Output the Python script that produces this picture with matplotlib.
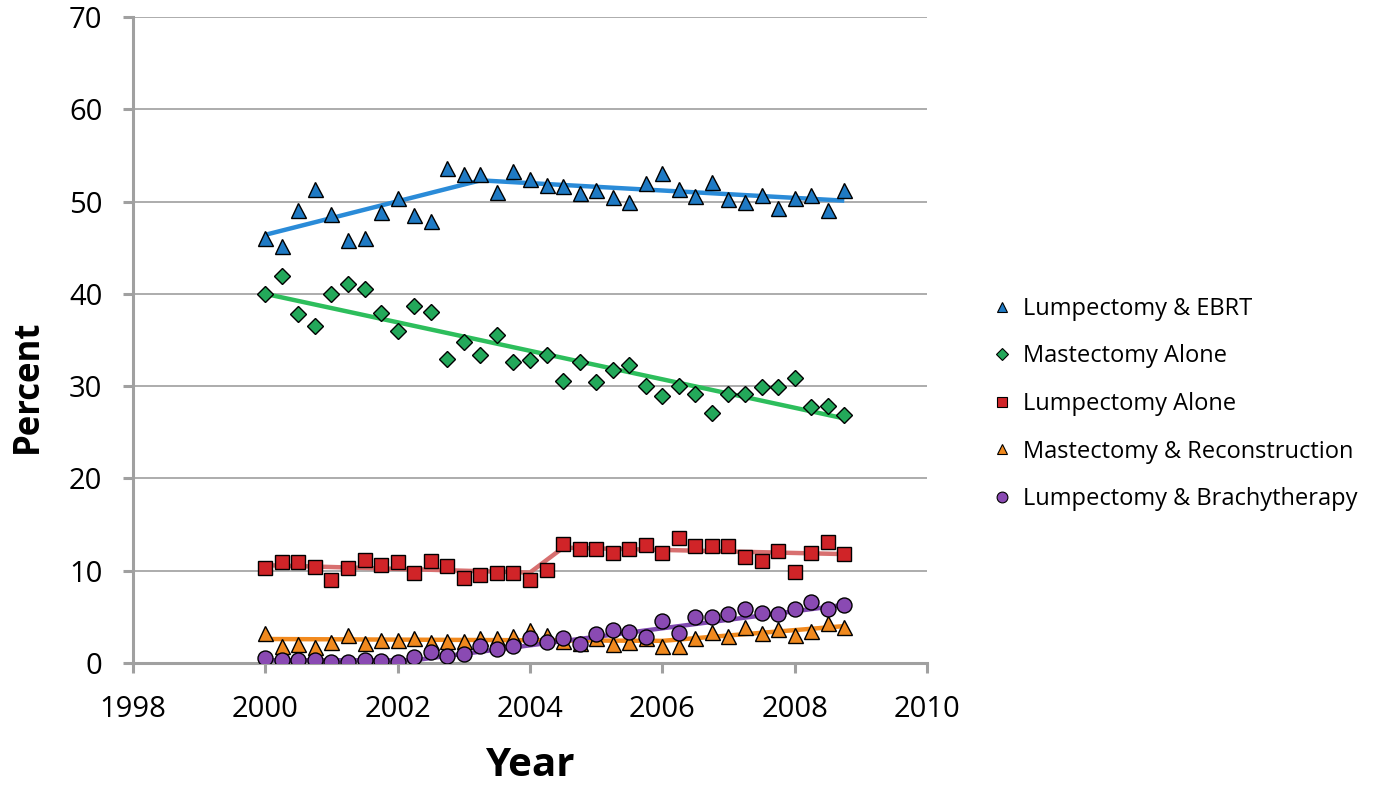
import matplotlib
matplotlib.use('Agg')
import matplotlib.pyplot as plt
from matplotlib.lines import Line2D
import numpy as np

# quarterly observations, 2000 Q1 .. 2008 Q4
QUARTERS = np.arange(2000, 2009, 0.25)

lump_ebrt = [46.0, 45.2, 49.1, 51.4, 48.7, 45.8, 46.0, 48.9, 50.4, 48.5,
             47.9, 53.6, 53.0, 53.0, 51.0, 53.3, 52.4, 51.8, 51.7, 50.9,
             51.3, 50.5, 50.0, 52.0, 53.1, 51.4, 50.6, 52.1, 50.3, 49.9,
             50.7, 49.3, 50.4, 50.7, 49.1, 51.2]
mast_alone = [40.0, 41.9, 37.8, 36.5, 40.0, 41.1, 40.5, 37.9, 36.0, 38.7,
              38.0, 32.9, 34.8, 33.4, 35.5, 32.6, 32.8, 33.4, 30.6, 32.6,
              30.5, 31.8, 32.3, 30.0, 28.9, 30.0, 29.2, 27.1, 29.1, 29.1,
              29.9, 29.9, 30.9, 27.7, 27.8, 26.9]
lump_alone = [10.3, 10.9, 10.9, 10.4, 9.0, 10.3, 11.2, 10.6, 10.9, 9.7,
              11.0, 10.5, 9.2, 9.5, 9.7, 9.8, 9.0, 10.1, 12.9, 12.4,
              12.4, 11.9, 12.3, 12.8, 11.9, 13.5, 12.7, 12.7, 12.7, 11.5,
              11.0, 12.1, 9.9, 11.9, 13.1, 11.8]
mast_recon = [3.3, 1.8, 2.1, 1.7, 2.3, 3.0, 2.2, 2.5, 2.5, 2.7,
              2.3, 2.4, 2.4, 2.7, 2.7, 2.9, 3.6, 3.0, 2.4, 2.2,
              2.7, 2.1, 2.3, 2.7, 1.8, 1.8, 2.7, 3.4, 2.9, 3.9,
              3.2, 3.7, 3.0, 3.5, 4.3, 3.9]
lump_brachy = [0.5, 0.3, 0.3, 0.3, 0.1, 0.15, 0.3, 0.25, 0.15, 0.7,
               1.2, 0.75, 1.0, 1.8, 1.5, 1.8, 2.7, 2.3, 2.7, 2.1,
               3.1, 3.6, 3.4, 2.8, 4.5, 3.3, 5.0, 5.0, 5.3, 5.8,
               5.45, 5.3, 5.9, 6.6, 5.9, 6.3]

# joinpoint trend segments (x, y)
trend_ebrt = ([2000, 2003.25, 2008.75], [46.4, 52.3, 50.1])
trend_mast = ([2000, 2008.75], [40.0, 26.5])
trend_lump = ([2000, 2004.0, 2004.5, 2008.75], [10.6, 9.8, 12.5, 11.8])
trend_recon = ([2000, 2006.0, 2008.75], [2.6, 2.4, 4.0])
trend_brachy = ([2000, 2002.25, 2008.75], [0.3, 0.3, 6.3])

LABELS = ['Lumpectomy & EBRT', 'Mastectomy Alone', 'Lumpectomy Alone',
          'Mastectomy & Reconstruction', 'Lumpectomy & Brachytherapy']

SERIES = [
    (lump_ebrt, trend_ebrt, '^', 10.8, '#1F7AC4', '#2A8BD8'),
    (mast_alone, trend_mast, 'D', 7.8, '#23A85A', '#2DBE5C'),
    (lump_alone, trend_lump, 's', 10.5, '#D02428', '#D87070'),
    (mast_recon, trend_recon, '^', 10.8, '#F0891E', '#F28A1E'),
    (lump_brachy, trend_brachy, 'o', 10.8, '#8A4AB3', '#8048B0'),
]

plt.rcParams['font.family'] = ['Open Sans', 'DejaVu Sans']

fig = plt.figure(figsize=(13.75, 7.89), dpi=100)
ax = fig.add_axes([133 / 1375, 1 - 663 / 789, (927 - 133) / 1375, (663 - 17) / 789])

for i, (vals, (tx, ty), mk, ms, mcol, lcol) in enumerate(SERIES):
    ax.plot(tx, ty, color=lcol, linewidth=3.2, solid_capstyle='butt',
            zorder=2 + i * 2)
    ax.plot(QUARTERS, vals, linestyle='none', marker=mk, markersize=ms,
            markerfacecolor=mcol, markeredgecolor='black',
            markeredgewidth=1.0, zorder=3 + i * 2)

ax.set_xlim(1998, 2010)
ax.set_ylim(0, 70)
ax.set_xticks(np.arange(1998, 2011, 2))
ax.set_yticks(np.arange(0, 71, 10))

ax.yaxis.grid(True, color='#A6A6A6', linewidth=1.3)
ax.set_axisbelow(True)
for side in ('top', 'right'):
    ax.spines[side].set_visible(False)
for side in ('left', 'bottom'):
    ax.spines[side].set_color('#A0A0A0')
    ax.spines[side].set_linewidth(2.2)
ax.tick_params(axis='both', direction='out', length=7, width=2.2,
               color='#A0A0A0', labelsize=21, labelcolor='black')
ax.tick_params(axis='y', pad=15)
ax.tick_params(axis='x', pad=16)

fig.text(28 / 1375, 1 - 386 / 789, 'Percent', rotation=90, fontsize=25,
         fontweight='bold', ha='center', va='center')
fig.text(530 / 1375, 1 - 766 / 789, 'Year', fontsize=29,
         fontweight='bold', ha='center', va='center')

handles = []
for (vals, trend, mk, ms, mcol, lcol), lab in zip(SERIES, LABELS):
    handles.append(Line2D([], [], linestyle='none', marker=mk,
                          markersize=ms * 0.72, markerfacecolor=mcol,
                          markeredgecolor='black', markeredgewidth=0.8,
                          label=lab))
fig.legend(handles=handles, loc='center left',
           bbox_to_anchor=(993 / 1375, 1 - 404 / 789), frameon=False,
           fontsize=17, handlelength=0.8, handletextpad=0.45,
           labelspacing=1.0, borderpad=0, borderaxespad=0)

fig.savefig('out.png', dpi=100, facecolor='white')
